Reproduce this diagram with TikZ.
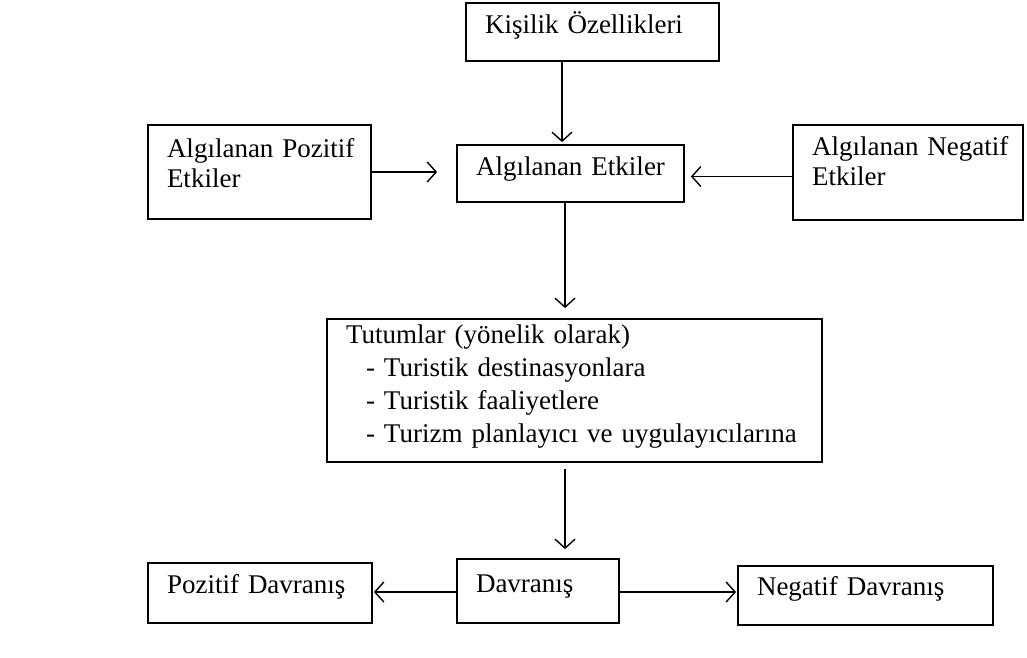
\documentclass[tikz,border=0pt]{standalone}
\usepackage{fontspec}
\setmainfont{Liberation Serif}
\usetikzlibrary{arrows.meta}

\begin{document}
\begin{tikzpicture}[x=1pt, y=-1pt,
                factor/.style={rectangle, draw, line width=1.8pt, inner xsep=19pt, inner ysep=0pt,
                               align=left, font=\fontsize{27}{30}\selectfont},
                paths/.style={line width=1.4pt, -{Straight Barb[length=9pt,width=20pt]}}
            ]
                \useasboundingbox[fill=white] (0,0) rectangle (1027,657);

                % Nodes
                \node[factor, text width=215pt, text height=30pt, text depth=28pt] (kisilik) at (592.5,32) {Kişilik Özellikleri};
                \node[factor, text width=189pt, text height=30pt, text depth=27pt] (etkiler) at (570.5,173.5) {Algılanan Etkiler};
                \node[factor, text width=185pt, text height=32pt, text depth=62pt] (pozitif) at (259.5,172) {\mbox{Algılanan Pozitif}\\Etkiler};
                \node[factor, text width=192pt, text height=30pt, text depth=65pt] (negatif) at (908,172.5) {\mbox{Algılanan Negatif}\\Etkiler};

                \node[factor, text width=457pt, text height=24pt, text depth=119pt,
                      font=\fontsize{27}{33}\selectfont] (tutum) at (574.5,390.5)
                    {Tutumlar (yönelik olarak)\\
                     \hspace*{20pt}- Turistik destinasyonlara\\
                     \hspace*{20pt}- Turistik faaliyetlere\\
                     \hspace*{20pt}- Turizm planlayıcı ve uygulayıcılarına};

                \node[factor, text width=124pt, text height=33pt, text depth=31pt] (davranis) at (538,591) {Davranış};
                \node[factor, text width=186pt, text height=30pt, text depth=30pt] (pdavranis) at (260,593) {Pozitif Davranış};
                \node[factor, text width=217pt, text height=29pt, text depth=30pt] (ndavranis) at (865.5,595.5) {Negatif Davranış};

                % Paths: towards perceived effects
                \draw[paths, shorten >=2pt] ([xshift=-30.5pt]kisilik.south) -- ([xshift=-8.5pt]etkiler.north);
                \draw[paths, shorten >=19pt] (pozitif.east) -- ([yshift=1.5pt]etkiler.west);
                \draw[paths, shorten >=6pt] ([yshift=-4pt]negatif.west) -- ([yshift=-3pt]etkiler.east);

                % Paths: attitudes and behaviour
                \draw[paths, shorten >=10pt] ([xshift=-5.5pt]etkiler.south) -- ([xshift=-9.5pt]tutum.north);
                \draw[paths, shorten <=6pt, shorten >=9pt] ([xshift=-9.5pt]tutum.south) -- ([xshift=27pt]davranis.north);

                \draw[paths, shorten >=1pt] ([yshift=-1pt]davranis.west) -- ([yshift=1pt]pdavranis.east);
                \draw[paths, shorten >=1pt] ([yshift=-1pt]davranis.east) -- ([yshift=3.5pt]ndavranis.west);
            \end{tikzpicture}
\end{document}
